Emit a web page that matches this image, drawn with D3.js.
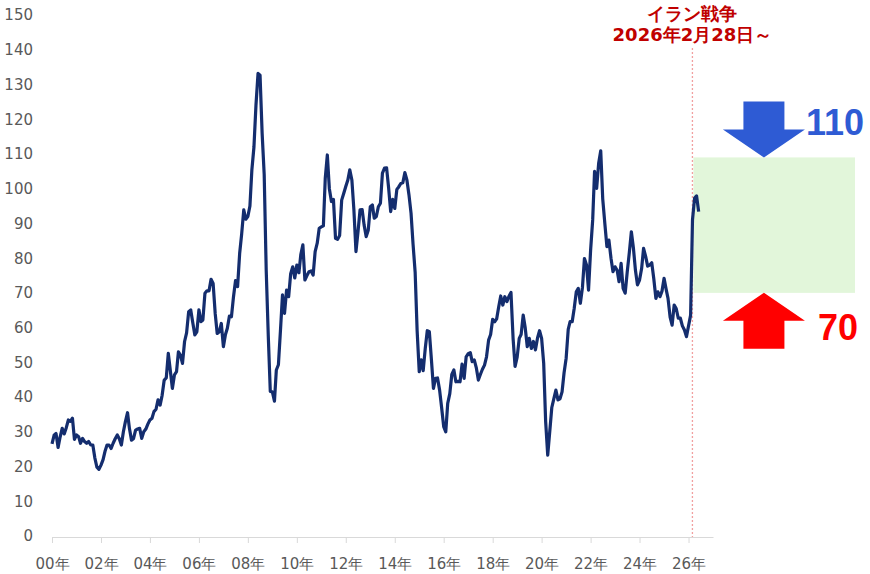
<!DOCTYPE html>
<html>
<head>
<meta charset="utf-8">
<script src="https://cdn.jsdelivr.net/npm/d3@7"></script>
<style>
  body { margin: 0; background: #fff; }
  svg { display: block; }
</style>
</head>
<body>
<svg id="chart" width="870" height="574"></svg>
<script>
// monthly crude price (USD/bbl), Jan 2000 - Feb 2026
let start_year = 2000;
let prices = [
  26.5, 29, 29.5, 25.5, 28.5, 31, 29.4, 31.2, 33.4, 33, 33.9, 27.8,          // 2000
  29.1, 28.6, 26.7, 28.1, 27.2, 26.7, 27.2, 26.2, 26.2, 22.5, 19.8, 19.2,    // 2001
  20.4, 22, 24.3, 26.2, 26.2, 25.2, 26.7, 28, 29.1, 28, 26.2, 30,            // 2002
  33, 35.5, 31, 27.6, 28, 30.5, 30.8, 31, 28.1, 30, 30.8, 32.2,              // 2003
  33.4, 33.9, 35.8, 36.5, 39.2, 37.7, 40.5, 44.9, 45.5, 52.6, 47.5, 42.5,    // 2004
  46.4, 47.3, 53, 52, 49.7, 56, 58.5, 64.6, 65.1, 61.5, 57.9, 58.8,          // 2005
  65.1, 61.7, 62.2, 69.9, 70.6, 70.6, 73.9, 72.7, 64, 58.3, 58.8, 61.2,      // 2006
  54.5, 58, 59.8, 63.3, 63.1, 68.9, 73.5, 71.8, 81.4, 87, 93.9, 91.2,        // 2007
  92, 95, 105.4, 112, 124, 133.2, 132.7, 116, 104, 76.5, 57.5, 41.6,         // 2008
  41.5, 38.8, 47.8, 49.3, 59, 69.4, 64.1, 70.8, 68.9, 75.5, 77.5, 74.3,      // 2009
  78, 75.8, 81, 83.8, 73.7, 75, 76.1, 76.3, 75.1, 81.9, 84.3, 88.6,          // 2010
  89, 89.3, 103, 109.7, 100, 96.3, 96.9, 85.7, 85.4, 86.5, 96.7, 98.6,       // 2011
  100.6, 102.5, 105.4, 102.5, 94, 81.9, 87.5, 93.9, 94, 89.5, 86.2, 88,      // 2012
  94.8, 95.3, 91.5, 92, 94.8, 95.8, 104.5, 105.9, 106, 100.3, 93.4, 96.9,    // 2013
  94.3, 99.8, 100.5, 101.5, 101.7, 104.6, 102.5, 98.2, 92.9, 84, 76, 59,     // 2014
  47.3, 50.7, 47.6, 54, 59.1, 58.8, 51, 42.5, 45.4, 45.5, 42, 37,            // 2015
  31.5, 30, 38.2, 41, 46.5, 47.8, 44.4, 44.5, 44.4, 49.5, 45.4, 51.6,        // 2016
  52.5, 52.8, 50.2, 50.7, 48.5, 44.9, 46.5, 48, 49.2, 51.6, 56.4, 58,        // 2017
  62.4, 61.7, 62.5, 66, 69.1, 66.5, 68.9, 67.5, 69, 70.1, 57, 48.8,          // 2018
  51.5, 56.9, 58, 63.6, 60, 54.5, 56.9, 54, 56, 53.6, 57, 59.1,              // 2019
  56.9, 49.7, 33, 23.3, 30, 37, 39.5, 42, 39.2, 39.5, 41.5, 47,              // 2020
  51.2, 59.5, 61.7, 61.7, 65.5, 70.3, 71.3, 67, 71.5, 79.9, 78, 70.8,        // 2021
  82.3, 91, 105, 100.1, 107.3, 110.9, 97, 90, 83.3, 85.2, 80, 76.1,          // 2022
  77.5, 76.5, 73.2, 78.5, 71.3, 69.9, 76, 81.5, 87.6, 83, 76.5, 72.3,        // 2023
  73.7, 77, 82.8, 80.5, 77.7, 78, 78.7, 74, 68.4, 70.3, 68.9, 70.5,          // 2024
  74.2, 71, 68.4, 63, 60.7, 66.5, 65.5, 62.7, 62.7, 60.5, 59.3, 57.4,        // 2025
  60.5, 63.6                                                                 // 2026
];
// after the start of the war
let war_prices = [91, 97.3, 97.9, 93.4];

let tick_years = [2000, 2002, 2004, 2006, 2008, 2010, 2012, 2014, 2016, 2018, 2020, 2022, 2024, 2026];
let tick_labels = ["00年", "02年", "04年", "06年", "08年", "10年", "12年", "14年", "16年", "18年", "20年", "22年", "24年", "26年"];
let y_ticks = [0, 10, 20, 30, 40, 50, 60, 70, 80, 90, 100, 110, 120, 130, 140, 150];

let range_low = 70;
let range_high = 109;
let range_labels = ["110", "70"];
let war_date = new Date(2026, 1, 28);
let war_title = ["イラン戦争", "2026年2月28日～"];

let svg = d3.select("#chart");
let font = "'DejaVu Sans', Verdana, sans-serif";

let series = prices.concat(war_prices).map((v, i) => ({ date: new Date(start_year, i, 1), value: v }));

let x_scale = d3.scaleTime()
  .domain([new Date(2000, 0, 1), new Date(2027, 0, 1)])
  .range([52, 713]);
let y_scale = d3.scaleLinear()
  .domain([0, 150])
  .range([536, 15]);

// forecast band behind the line
let war_x = x_scale(war_date);
let band_right = 855;
svg.append("rect")
  .attr("x", war_x + 1)
  .attr("y", y_scale(range_high))
  .attr("width", band_right - war_x - 1)
  .attr("height", y_scale(range_low) - y_scale(range_high))
  .attr("fill", "#e2f6da");

// x axis
let x_axis = d3.axisBottom(x_scale)
  .tickValues(tick_years.map((y) => new Date(y, 0, 1)))
  .tickFormat((d, i) => tick_labels[i])
  .tickSize(6)
  .tickSizeOuter(0);
let gx = svg.append("g")
  .attr("transform", "translate(0,537)")
  .call(x_axis);
gx.select(".domain").attr("stroke", "#d9d9d9");
gx.selectAll(".tick line").attr("stroke", "#d9d9d9");
gx.selectAll(".tick text")
  .attr("fill", "#595959")
  .attr("y", 21)
  .style("font-family", font)
  .style("font-size", "15px");

// y labels (no axis line)
svg.append("g")
  .selectAll("text")
  .data(y_ticks)
  .enter().append("text")
    .attr("x", 33)
    .attr("y", (d) => y_scale(d))
    .attr("dy", "0.36em")
    .attr("text-anchor", "end")
    .attr("fill", "#595959")
    .style("font-family", font)
    .style("font-size", "15px")
    .text((d) => d);

// war start marker
svg.append("line")
  .attr("x1", war_x).attr("x2", war_x)
  .attr("y1", 48).attr("y2", 537)
  .attr("stroke", "#f2a0a0")
  .attr("stroke-width", 1.3)
  .attr("stroke-dasharray", "2,2");

svg.append("g")
  .selectAll("text")
  .data(war_title)
  .enter().append("text")
    .attr("x", war_x)
    .attr("y", (d, i) => 20 + i * 21)
    .attr("text-anchor", "middle")
    .attr("fill", "#c00000")
    .style("font-family", font)
    .style("font-weight", "bold")
    .style("font-size", "18px")
    .text((d) => d);

// price line
let line = d3.line()
  .x((d) => x_scale(d.date))
  .y((d) => y_scale(d.value));
svg.append("path")
  .datum(series)
  .attr("fill", "none")
  .attr("stroke", "#142d6e")
  .attr("stroke-width", 3.2)
  .attr("stroke-linejoin", "round")
  .attr("d", line);

// arrows pointing at the band edges
let arrow_x = war_x + 71.5;
let down_tip = y_scale(range_high);
let up_tip = y_scale(range_low);
let arrow = (tip, dir) => {
  // dir = 1 points down, -1 points up
  let head = tip - dir * 28, tail = tip - dir * 56;
  return [
    [arrow_x, tip], [arrow_x + 41, head], [arrow_x + 20.5, head], [arrow_x + 20.5, tail],
    [arrow_x - 20.5, tail], [arrow_x - 20.5, head], [arrow_x - 41, head]
  ].map((p) => p.join(",")).join(" ");
};
svg.append("polygon")
  .attr("points", arrow(down_tip, 1))
  .attr("fill", "#2e5bd4");
svg.append("polygon")
  .attr("points", arrow(up_tip, -1))
  .attr("fill", "#ff0000");

svg.append("text")
  .attr("x", 806)
  .attr("y", down_tip - 22)
  .attr("fill", "#2e5bd4")
  .style("font-family", "'Liberation Sans', Arial, sans-serif")
  .style("font-weight", "bold")
  .style("font-size", "36px")
  .text(range_labels[0]);
svg.append("text")
  .attr("x", 818)
  .attr("y", up_tip + 47)
  .attr("fill", "#ff0000")
  .style("font-family", "'Liberation Sans', Arial, sans-serif")
  .style("font-weight", "bold")
  .style("font-size", "36px")
  .text(range_labels[1]);
</script>
</body>
</html>
